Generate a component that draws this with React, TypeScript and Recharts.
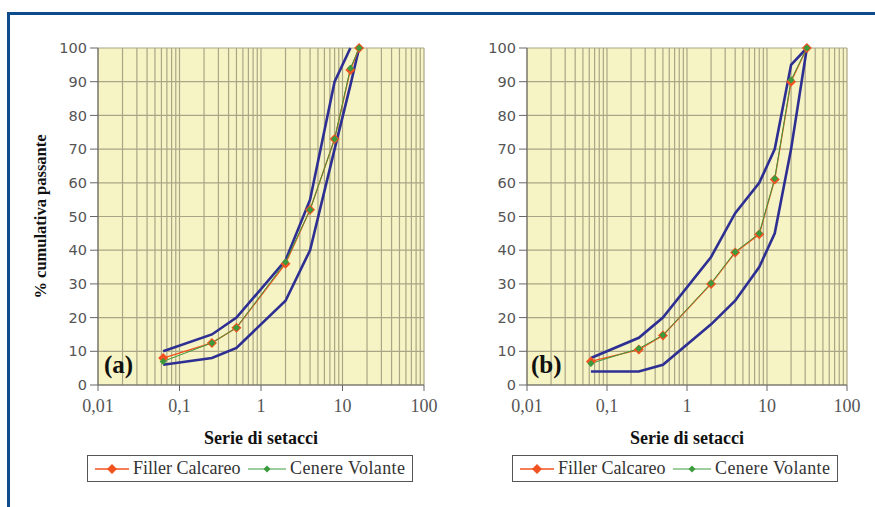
import { LineChart, Line, XAxis, YAxis, CartesianGrid, ReferenceLine } from "recharts";

// pannello (a)
const sievesA = [0.063, 0.25, 0.5, 2, 4, 8, 12.5, 16];
const fillerA = [8, 12.5, 17, 36, 52, 73, 93.5, 100];
const cenereA = [7, 12.5, 17, 36.5, 52, 73, 94, 100];
const upperSievesA = [0.063, 0.25, 0.5, 2, 4, 8, 12.5];
const upperA = [10, 15, 20, 37, 55, 90, 100];
const lowerSievesA = [0.063, 0.25, 0.5, 2, 4, 8, 12.5, 16];
const lowerA = [6, 8, 11, 25, 40, 70, 89, 100];

// pannello (b)
const sievesB = [0.063, 0.25, 0.5, 2, 4, 8, 12.5, 20, 31.5];
const fillerB = [7, 10.5, 14.7, 30, 39.3, 44.7, 61, 90, 100];
const cenereB = [6.4, 10.8, 14.8, 30.2, 39.5, 45, 61.3, 90.5, 100];
const upperSievesB = [0.063, 0.25, 0.5, 2, 4, 8, 12.5, 20, 31.5];
const upperB = [8, 14, 20, 38, 51, 60, 70, 95, 100];
const lowerSievesB = [0.063, 0.25, 0.5, 2, 4, 8, 12.5, 20, 31.5];
const lowerB = [4, 4, 6, 18, 25, 35, 45, 70, 100];

const xTicks = [0.01, 0.1, 1, 10, 100];
const yTicks = [0, 10, 20, 30, 40, 50, 60, 70, 80, 90, 100];
const decades = [0.01, 0.1, 1, 10];
const steps = [1, 2, 3, 4, 5, 6, 7, 8, 9];
// linee della griglia logaritmica
const gridX = [...decades.flatMap((d) => steps.map((s) => +(d * s).toPrecision(3))), 100];

const RED = "#f2521f";
const GREEN = "#3c9a3c";
const BLUE = "#2e2f92";
const GRID = "#aaa586";

const zip = (xs: number[], ys: number[]) => xs.map((x, i) => ({ x, y: ys[i] }));

const Diamond = (size: number, color: string) => (props: any) => {
  const { cx, cy, index } = props;
  if (cx == null || cy == null) return null;
  return (
    <polygon
      key={index}
      points={`${cx},${cy - size} ${cx + size},${cy} ${cx},${cy + size} ${cx - size},${cy}`}
      fill={color}
    />
  );
};

type Pt = { x: number; y: number };
type PanelProps = {
  left: number;
  width: number;
  margin: { top: number; right: number; left: number; bottom: number };
  tag: string;
  tagLeft: number;
  showYLabel: boolean;
  filler: Pt[];
  cenere: Pt[];
  upper: Pt[];
  lower: Pt[];
  legendLeft: number;
};

function Legend({ left }: { left: number }) {
  const txt = { position: "absolute" as const, top: 2, fontFamily: "Liberation Serif", fontSize: 18, color: "#333" };
  return (
    <div
      style={{
        position: "absolute",
        left,
        top: 455,
        width: 324,
        height: 25,
        border: "1.5px solid #555",
        background: "#fff",
      }}
    >
      <svg width={36} height={12} style={{ position: "absolute", left: 7, top: 7 }}>
        <line x1={0} y1={6} x2={34} y2={6} stroke={RED} strokeWidth={1.3} />
        <polygon points="17,1 22,6 17,11 12,6" fill={RED} />
      </svg>
      <span style={{ ...txt, left: 45 }}>Filler Calcareo</span>
      <svg width={40} height={12} style={{ position: "absolute", left: 160, top: 7 }}>
        <line x1={0} y1={6} x2={38} y2={6} stroke={GREEN} strokeWidth={1} />
        <polygon points="19,2.5 22.5,6 19,9.5 15.5,6" fill={GREEN} />
      </svg>
      <span style={{ ...txt, left: 202, letterSpacing: 0.4 }}>Cenere Volante</span>
    </div>
  );
}

function Panel(p: PanelProps) {
  return (
    <div style={{ position: "absolute", left: p.left, top: 0, width: p.width, height: 507 }}>
      <LineChart width={p.width} height={507} margin={p.margin}>
        <CartesianGrid fill="#f6f4c4" fillOpacity={1} stroke={GRID} strokeWidth={1.2} vertical={false} />
        {gridX.map((v) => (
          <ReferenceLine key={v} x={v} stroke={GRID} strokeWidth={1.2} />
        ))}
        <XAxis
          type="number"
          dataKey="x"
          scale="log"
          domain={[0.01, 100]}
          ticks={xTicks}
          allowDataOverflow
          height={60}
          tickSize={6}
          tickMargin={8}
          stroke="#666"
          tick={{ fontFamily: "Liberation Serif", fontSize: 18, fill: "#555" }}
          tickFormatter={(v: number) => String(v).replace(".", ",")}
          label={{
            value: "Serie di setacci",
            position: "insideBottom",
            offset: 1,
            style: { fontFamily: "Liberation Serif", fontWeight: "bold", fontSize: 18, fill: "#111" },
          }}
        />
        <YAxis
          type="number"
          domain={[0, 100]}
          ticks={yTicks}
          width={78}
          tickSize={8}
          tickMargin={3}
          stroke="#666"
          tick={{ fontFamily: "DejaVu Sans", fontSize: 14.5, fill: "#555" }}
          label={
            p.showYLabel
              ? {
                  value: "% cumulativa passante",
                  angle: -90,
                  position: "insideLeft",
                  offset: 20,
                  style: {
                    textAnchor: "middle",
                    fontFamily: "Liberation Serif",
                    fontWeight: "bold",
                    fontSize: 16.5,
                    fill: "#111",
                  },
                }
              : undefined
          }
        />
        <Line data={p.upper} dataKey="y" stroke={BLUE} strokeWidth={2.6} dot={false} isAnimationActive={false} />
        <Line data={p.lower} dataKey="y" stroke={BLUE} strokeWidth={2.6} dot={false} isAnimationActive={false} />
        <Line
          data={p.filler}
          dataKey="y"
          stroke={RED}
          strokeWidth={1.3}
          dot={Diamond(5, RED)}
          isAnimationActive={false}
        />
        <Line
          data={p.cenere}
          dataKey="y"
          stroke={GREEN}
          strokeWidth={1}
          dot={Diamond(3.5, GREEN)}
          isAnimationActive={false}
        />
      </LineChart>
      <div
        style={{
          position: "absolute",
          left: p.tagLeft,
          top: 351,
          fontFamily: "Liberation Serif",
          fontWeight: "bold",
          fontSize: 25,
          color: "#111",
        }}
      >
        {p.tag}
      </div>
      <Legend left={p.legendLeft} />
    </div>
  );
}

export default function App() {
  return (
    <div
      style={{
        position: "absolute",
        left: 0,
        top: 0,
        width: 875,
        height: 507,
        overflow: "hidden",
        background: "#fff",
      }}
    >
      <div
        style={{
          position: "absolute",
          left: 7,
          top: 12,
          width: 900,
          height: 600,
          borderLeft: "3px solid #0d4b8c",
          borderTop: "3px solid #0d4b8c",
        }}
      />
      <Panel
        left={0}
        width={440}
        margin={{ top: 48, right: 16, left: 20, bottom: 62 }}
        tag="(a)"
        tagLeft={104}
        showYLabel
        filler={zip(sievesA, fillerA)}
        cenere={zip(sievesA, cenereA)}
        upper={zip(upperSievesA, upperA)}
        lower={zip(lowerSievesA, lowerA)}
        legendLeft={87}
      />
      <Panel
        left={440}
        width={435}
        margin={{ top: 48, right: 28, left: 9, bottom: 62 }}
        tag="(b)"
        tagLeft={91}
        showYLabel={false}
        filler={zip(sievesB, fillerB)}
        cenere={zip(sievesB, cenereB)}
        upper={zip(upperSievesB, upperB)}
        lower={zip(lowerSievesB, lowerB)}
        legendLeft={72}
      />
    </div>
  );
}
